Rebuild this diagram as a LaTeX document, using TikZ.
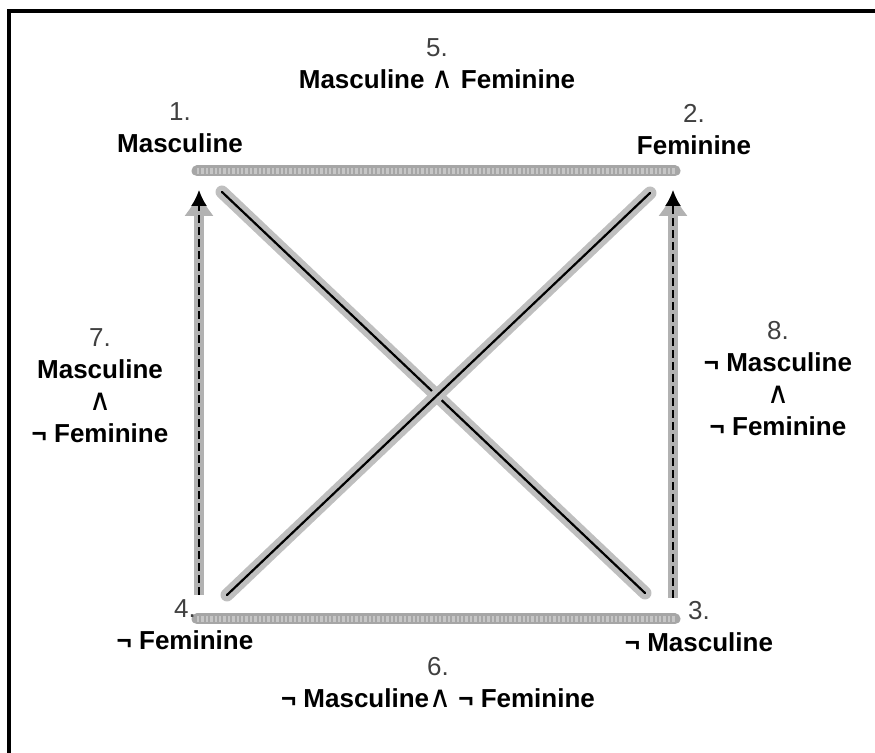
\documentclass[tikz,border=0pt]{standalone}
\usepackage{fontspec}
\setmainfont{Liberation Sans}
\newfontfamily\symfont{DejaVu Sans}
\usepackage{tikz}
\usetikzlibrary{arrows.meta,positioning}
\newcommand{\lgand}{{\symfont\mdseries\fontsize{15}{16}\selectfont ∧}}
\newcommand{\lgnot}{¬}

\begin{document}
\begin{tikzpicture}[x=0.5pt, y=-0.5pt,
  font=\fontsize{13}{16}\selectfont\bfseries,
  lab/.style={align=center, inner sep=0pt, text=black},
  hbar/.style={gray!70, line width=5.5pt, line cap=round},
  hbarin/.style={gray!45, line width=3pt, dash pattern=on 1.2pt off 1pt},
  diag/.style={gray!50, line width=6.5pt, line cap=round},
  diagin/.style={black, line width=1.1pt, line cap=round},
  varr/.style={gray!60, line width=5pt, -{Latex[length=13pt,width=15pt]}},
  varrin/.style={black, line width=1pt, dash pattern=on 4pt off 2pt, -{Latex[length=8pt,width=8pt]}}]
\useasboundingbox (0,0) rectangle (875,753);
% frame, only left and top edges show
\draw[line width=1.6pt] (9,760) -- (9,11) -- (880,11);
% ---- corner end points ----
\coordinate (t1) at (197,171);
\coordinate (t2) at (675,171);
\coordinate (b4) at (197,619);
\coordinate (b3) at (675,619);
\coordinate (l4) at (199,595);
\coordinate (l1) at (199,190);
\coordinate (r3) at (673,598);
\coordinate (r2) at (673,190);
\coordinate (d1) at (222,192);
\coordinate (d3) at (645,593);
\coordinate (d4) at (227,595);
\coordinate (d2) at (650,193);
% ---- horizontal bars ----
\draw[hbar] (t1) -- (t2);
\draw[hbarin] (t1) -- (t2);
\draw[hbar] (b4) -- (b3);
\draw[hbarin] (b4) -- (b3);
% ---- diagonals ----
\draw[diag] (d1) -- (d3);
\draw[diagin] (d1) -- (d3);
\draw[diag] (d4) -- (d2);
\draw[diagin] (d4) -- (d2);
% ---- dashed vertical arrows ----
\draw[varr] (l4) -- (l1);
\draw[varrin] (l4) -- (l1);
\draw[varr] (r3) -- (r2);
\draw[varrin] (r3) -- (r2);
% ---- labels ----
\node[lab] (both) at (437,64) {{\mdseries\color{black!75}5.}\\Masculine \lgand{} Feminine};
\node[lab] (masc) at (180,128) {{\mdseries\color{black!75}1.}\\Masculine};
\node[lab] (fem) at (694,130) {{\mdseries\color{black!75}2.}\\Feminine};
\node[lab] (nfem) at (185,625) {{\mdseries\color{black!75}4.}\\\lgnot{} Feminine};
\node[lab] (nmasc) at (699,627) {{\mdseries\color{black!75}3.}\\\lgnot{} Masculine};
\node[lab] (neither) at (438,683) {{\mdseries\color{black!75}6.}\\\lgnot{} Masculine\lgand{} \lgnot{} Feminine};
\node[lab] (mnf) at (100,386) {{\mdseries\color{black!75}7.}\\Masculine\\\lgand\\\lgnot{} Feminine};
\node[lab] (nmnf) at (778,379) {{\mdseries\color{black!75}8.}\\\lgnot{} Masculine\\\lgand\\\lgnot{} Feminine};
\end{tikzpicture}
\end{document}
